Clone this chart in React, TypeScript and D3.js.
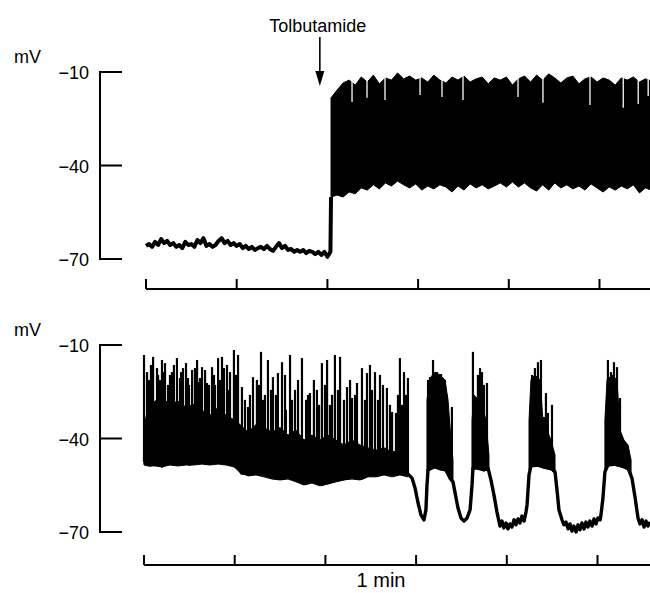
import React from "react";
import * as d3 from "d3";

const W = 650;
const H = 593;

// top record, resting potential before the drug (mV, one sample every 2 s)
const restStep = 2;
const restTop = [
  -65.8, -65.2, -66.1, -64.5, -65.5, -63.6, -64.9, -64.2, -65.5, -64.9,
  -66.1, -65.5, -66.5, -64.5, -65.5, -65.2, -66.1, -63.9, -64.9, -63.3,
  -65.8, -65.2, -66.1, -65.5, -64.2, -63.3, -64.9, -64.2, -65.5, -64.9,
  -65.8, -65.2, -66.5, -65.8, -66.8, -66.1, -67.1, -66.5, -66.1, -66.8,
  -65.8, -66.8, -67.4, -66.1, -64.9, -66.5, -65.8, -67.1, -66.8, -67.7,
  -67.1, -67.7, -67.1, -68.1, -67.4, -67.7, -68.4, -67.7, -68.7, -67.7,
  -69.3, -67.7,
];

// top record after tolbutamide: envelope of continuous firing (4 s samples)
const drugTime = 115;
const bandStart = 122.4;
const bandStep = 4;
const bandUpper = [
  -18.3, -15.8, -13.5, -12.6, -14.2, -11.6, -13.2, -11.0, -13.8, -11.9,
  -12.6, -10.3, -12.2, -11.3, -12.6, -11.9, -13.2, -11.0, -12.6, -13.5,
  -11.6, -12.6, -11.3, -13.2, -12.2, -11.6, -13.8, -11.9, -12.6, -11.6,
  -14.2, -12.2, -11.3, -13.2, -11.0, -12.6, -10.6, -11.9, -13.5, -11.9,
  -11.3, -13.8, -12.2, -11.6, -13.2, -11.9, -12.6, -14.2, -11.9, -12.6,
  -11.6, -13.2, -12.2, -12.9,
];
const bandLower = [
  -50.1, -49.5, -50.1, -48.5, -49.1, -47.2, -47.9, -46.2, -47.5, -45.6,
  -46.6, -45.0, -46.2, -47.2, -45.9, -47.9, -46.6, -47.5, -46.2, -46.9,
  -48.5, -46.6, -47.9, -45.9, -47.2, -46.2, -47.5, -46.6, -45.6, -46.9,
  -45.3, -46.9, -45.6, -47.2, -48.2, -46.2, -47.9, -45.6, -47.2, -46.2,
  -47.5, -46.6, -47.9, -45.9, -47.2, -48.5, -46.9, -47.9, -46.6, -47.5,
  -46.2, -48.8, -47.2, -47.9,
];
// gaps between spikes reaching down from the top of the band [s, mV]
const bandGaps: [number, number][] = [
  [136.3, -19.6], [146.2, -18.3], [158.1, -19.0], [181.3, -17.4], [195.8, -18.0],
  [209.7, -19.0], [246.1, -18.0], [262.6, -19.9], [293.7, -20.6], [315.7, -21.5],
  [325.6, -20.3], [332.2, -17.7],
];

// bottom record: membrane potential under the spikes [s, mV]
const floorBottom: [number, number][] = [
  [0, -47.5], [4, -48.5], [7.9, -47.9], [11.9, -48.8], [15.9, -47.5], [20.5, -48.2],
  [25.1, -47.5], [30.4, -48.2], [35.7, -47.2], [41, -47.9], [46.3, -47.5], [51.6, -47.2],
  [56.9, -47.9], [60.9, -48.8], [64.8, -51.1], [70.1, -51.4], [75.4, -50.7], [80.7, -51.7],
  [86, -52.3], [91.3, -52.7], [96.6, -52.0], [101.9, -53.3], [107.2, -54.3], [112.4, -53.3],
  [117.7, -54.6], [123, -53.9], [128.3, -53.3], [133.6, -52.7], [138.9, -52.0], [144.2, -52.7],
  [149.5, -51.4], [154.8, -51.7], [160.1, -50.7], [165.4, -51.4], [170.7, -50.7], [174.6, -51.4],
  [177.3, -52.7], [179.3, -55.9], [181.3, -60.7], [183.2, -64.5], [185.2, -66.1], [186.5, -62.9],
  [187.2, -54.9], [187.9, -50.1], [191.8, -48.8], [195.8, -49.5], [199.8, -50.1], [202.4, -52.7],
  [204.4, -53.9], [205.7, -57.2], [207.7, -62.3], [209.7, -65.5], [211.7, -66.5], [213.7, -65.5],
  [215.7, -62.9], [217, -54.9], [217.6, -49.5], [220.9, -49.5], [224.9, -50.1], [227.6, -49.5],
  [229.5, -53.3], [231.5, -58.1], [233.5, -63.6], [235.5, -68.1], [236.8, -66.5], [238.1, -68.7],
  [239.5, -67.1], [240.8, -69.0], [242.1, -67.4], [243.4, -68.4], [244.8, -66.1], [246.1, -67.7],
  [247.4, -65.8], [248.7, -67.1], [250, -64.9], [251.4, -66.5], [252.7, -63.6], [253.4, -61.3],
  [254.7, -51.7], [256, -48.8], [260.6, -48.5], [265.3, -49.1], [269.9, -49.5], [271.9, -50.7],
  [273.2, -56.5], [274.5, -62.9], [276.5, -66.1], [277.8, -67.7], [279.2, -66.8], [280.5, -69.0],
  [281.8, -67.4], [283.1, -69.7], [284.4, -68.1], [285.8, -70.0], [287.1, -67.7], [288.4, -69.3],
  [289.7, -67.1], [291.1, -69.0], [292.4, -66.8], [293.7, -68.4], [295, -66.5], [296.4, -68.1],
  [297.7, -65.8], [299, -67.4], [300.3, -65.5], [301.7, -66.1], [302.3, -64.5], [303.6, -59.1],
  [304.9, -50.7], [306.9, -48.5], [311.5, -48.2], [316.2, -48.8], [320.2, -49.5], [322.8, -52.7],
  [324.8, -58.8], [326.8, -65.5], [328.1, -67.4], [329.5, -66.1], [330.8, -68.4], [332.1, -66.5],
  [333.4, -68.1], [334.7, -66.8],
];

// bottom record: dense firing regions [s, top mV, bottom mV]
const burstBands: [number, number, number][][] = [
  [
    [0, -37.0, -48.5], [2.6, -29.5, -48.8], [7.3, -28.0, -48.8], [11.9, -27.0, -49.1],
    [17.2, -29.0, -48.5], [22.5, -28.0, -48.8], [27.8, -30.0, -48.5], [33.1, -29.0, -48.5],
    [38.4, -31.0, -48.2], [43.7, -32.5, -48.5], [49.0, -30.0, -48.2], [54.2, -32.5, -48.5],
    [59.5, -34.0, -49.1], [63.5, -35.5, -50.7], [68.8, -38.0, -52.0], [74.1, -35.5, -51.7],
    [79.4, -36.5, -52.3], [84.7, -38.0, -53.0], [90.0, -36.5, -53.3], [95.3, -38.9, -53.0],
    [100.5, -37.3, -53.9], [105.8, -40.5, -54.9], [111.1, -38.9, -54.3], [116.4, -40.5, -55.2],
    [121.7, -38.9, -54.6], [127.0, -40.5, -53.9], [132.3, -42.1, -53.3], [137.6, -40.5, -53.0],
    [142.9, -42.1, -53.3], [148.2, -43.0, -52.3], [153.5, -43.7, -52.3], [158.8, -43.0, -51.7],
    [164.1, -44.3, -52.3], [169.3, -43.7, -51.7], [174.6, -45.3, -52.3],
  ],
  [
    [187.2, -27.6, -50.7], [189.2, -20.6, -50.1], [192.5, -18.7, -49.5], [195.8, -19.6, -50.1],
    [199.1, -21.2, -50.4], [201.1, -27.6, -51.7], [203.1, -40.5, -53.3], [204.4, -46.9, -54.6],
  ],
  [
    [217.0, -34.1, -50.1], [218.3, -26.0, -49.5], [220.9, -27.6, -49.8], [223.6, -29.2, -50.1],
    [226.2, -34.1, -50.1], [228.2, -45.3, -50.7],
  ],
  [
    [254.7, -34.1, -50.1], [256.0, -21.2, -49.1], [258.6, -19.6, -48.8], [262.0, -21.2, -49.1],
    [263.9, -34.1, -49.5], [266.6, -37.3, -49.8], [269.2, -40.5, -50.1], [271.9, -45.3, -51.4],
  ],
  [
    [304.9, -34.1, -50.1], [306.3, -21.2, -48.8], [309.6, -19.6, -48.5], [312.9, -21.2, -48.8],
    [314.9, -37.3, -49.1], [317.5, -40.5, -49.5], [320.2, -42.1, -50.1], [322.2, -46.9, -52.0],
  ],
];

// bottom record: spike peaks [s, mV]
const spikesBottom: [number, number][] = [
  [0, -13.2], [2.0, -18.7], [3.3, -21.2], [4.6, -16.4], [6.0, -13.8], [8.6, -17.4],
  [9.3, -19.6], [10.6, -21.2], [11.9, -14.8], [13.2, -18.7], [13.9, -15.8], [15.9, -22.8],
  [17.2, -19.6], [18.5, -18.7], [19.8, -16.4], [21.8, -14.2], [23.8, -20.6], [24.5, -18.7],
  [25.8, -17.4], [27.8, -15.8], [29.1, -20.6], [29.8, -22.8], [31.8, -18.0], [33.7, -17.4],
  [35.1, -14.8], [36.4, -21.9], [37.0, -20.6], [38.4, -17.1], [40.4, -18.0], [41.7, -22.2],
  [43.0, -22.8], [45.0, -17.1], [46.3, -19.6], [47.0, -22.8], [49.0, -14.2], [50.3, -21.2],
  [51.6, -13.8], [52.9, -17.4], [54.9, -16.4], [56.2, -24.4], [56.9, -18.7], [59.5, -11.6],
  [60.9, -19.6], [62.2, -13.2], [64.8, -23.5], [66.8, -27.6], [68.8, -29.9], [70.1, -26.0],
  [72.1, -20.3], [74.7, -21.2], [76.1, -22.8], [77.4, -12.2], [78.7, -27.6], [80.0, -26.0],
  [82.0, -14.8], [84.0, -24.4], [85.3, -20.3], [87.3, -26.0], [88.6, -19.0], [91.3, -15.5],
  [93.3, -19.6], [93.9, -30.8], [96.6, -13.2], [97.9, -27.6], [99.9, -24.4], [101.9, -21.2],
  [104.5, -14.2], [107.2, -27.6], [108.5, -26.0], [109.8, -25.4], [112.4, -21.2], [114.4, -24.4],
  [115.8, -29.2], [117.7, -15.8], [119.7, -22.8], [121.1, -14.8], [123.0, -29.2], [124.4, -26.0],
  [126.3, -13.2], [128.3, -24.4], [129.7, -13.8], [132.3, -27.6], [134.3, -23.5], [136.3, -21.2],
  [137.6, -27.0], [139.6, -26.0], [140.9, -22.2], [144.2, -17.4], [146.2, -27.6], [147.5, -19.0],
  [149.5, -16.4], [150.8, -24.4], [152.8, -18.7], [154.8, -27.6], [156.1, -19.6], [158.1, -22.8],
  [160.7, -23.8], [162.7, -29.2], [164.1, -31.5], [166.7, -31.8], [168.0, -26.0], [169.3, -14.2],
  [170.7, -29.2], [172.0, -18.7], [173.3, -26.0], [174.6, -20.6],
  [187.9, -21.2], [189.2, -20.3], [191.2, -14.8], [193.8, -18.7], [196.5, -19.3], [199.1, -21.2],
  [200.4, -26.0], [203.7, -29.9],
  [217.6, -12.2], [219.6, -26.7], [220.9, -19.6], [222.3, -17.4], [223.6, -18.7], [224.9, -22.8],
  [226.9, -22.2],
  [256.7, -19.6], [258.6, -17.4], [260.6, -15.5], [262.6, -14.8], [264.6, -33.1], [265.9, -25.4],
  [267.2, -31.8], [269.9, -29.2],
  [306.9, -14.8], [308.9, -18.7], [310.9, -15.5], [312.9, -17.1], [314.9, -27.0],
];

const mvTicks = [-10, -40, -70];
const minuteTicks = [0, 60, 120, 180, 240, 300];

const font = "'Liberation Sans', Arial, sans-serif";

const floorAt = (t: number) => {
  const i = d3.bisector((d: [number, number]) => d[0]).left(floorBottom, t);
  if (i <= 0) return floorBottom[0][1];
  if (i >= floorBottom.length) return floorBottom[floorBottom.length - 1][1];
  const a = floorBottom[i - 1];
  const b = floorBottom[i];
  return a[1] + ((t - a[0]) / (b[0] - a[0])) * (b[1] - a[1]);
};

const upperAt = (t: number) => {
  const f = (t - bandStart) / bandStep;
  const i = Math.max(0, Math.min(bandUpper.length - 2, Math.floor(f)));
  const k = f - i;
  return bandUpper[i] + k * (bandUpper[i + 1] - bandUpper[i]);
};

const Panel = ({ x0, yTop, yBot, axisY, children }: any) => {
  const y = d3.scaleLinear().domain([-10, -70]).range([yTop, yBot]);
  const x = d3.scaleLinear().domain([0, 60]).range([x0, x0 + 90.7]);
  return (
    <g>
      <text x={14} y={yTop - 9} fontSize={18} fontFamily={font}>mV</text>
      <line x1={100} x2={100} y1={y(-10) - 1} y2={y(-70) + 1} stroke="#000" strokeWidth={2} />
      {mvTicks.map((v) => (
        <g key={v}>
          <line x1={100} x2={122} y1={y(v)} y2={y(v)} stroke="#000" strokeWidth={2} />
          <text x={89} y={y(v) + 1} textAnchor="end" dominantBaseline="central" fontSize={18} fontFamily={font}>
            {"\u2212" + Math.abs(v)}
          </text>
        </g>
      ))}
      <line x1={x0} x2={W} y1={axisY} y2={axisY} stroke="#000" strokeWidth={2} />
      {minuteTicks.map((t) => (
        <line key={t} x1={x(t)} x2={x(t)} y1={axisY - 10} y2={axisY} stroke="#000" strokeWidth={2} />
      ))}
      {children(x, y)}
    </g>
  );
};

export default function App() {
  return (
    <svg width={W} height={H} style={{ position: "absolute", left: 0, top: 0, background: "#fff" }}>
      <Panel x0={146} yTop={72} yBot={259} axisY={289}>
        {(x: any, y: any) => {
          const rest: [number, number][] = restTop.map((v, i) => [i * restStep, v]);
          rest.push([bandStart, bandLower[0]]);
          const line = d3.line<[number, number]>().x((d) => x(d[0])).y((d) => y(d[1]));
          const area = d3
            .area<number>()
            .x((_, i) => x(bandStart + i * bandStep))
            .y0((_, i) => y(bandLower[i]))
            .y1((d) => y(d));
          const ax = x(drugTime);
          return (
            <g>
              <path d={line(rest) || ""} fill="none" stroke="#000" strokeWidth={4} strokeLinejoin="round" />
              <path d={area(bandUpper) || ""} fill="#000" stroke="#000" strokeWidth={1} />
              {bandGaps.map(([t, v], i) => (
                <line key={i} x1={x(t)} x2={x(t)} y1={y(upperAt(t)) - 2} y2={y(v)} stroke="#fff" strokeWidth={1.3} />
              ))}
              <text x={ax - 2} y={32} textAnchor="middle" fontSize={18} fontFamily={font}>Tolbutamide</text>
              <line x1={ax} x2={ax} y1={37} y2={74} stroke="#000" strokeWidth={1.6} />
              <path d={`M${ax - 4.5},71L${ax + 4.5},71L${ax},86Z`} fill="#000" />
            </g>
          );
        }}
      </Panel>
      <Panel x0={144} yTop={345} yBot={532} axisY={565}>
        {(x: any, y: any) => {
          const line = d3.line<[number, number]>().x((d) => x(d[0])).y((d) => y(d[1]));
          const area = d3
            .area<[number, number, number]>()
            .x((d) => x(d[0]))
            .y0((d) => y(d[2]))
            .y1((d) => y(d[1]));
          return (
            <g>
              <path d={line(floorBottom) || ""} fill="none" stroke="#000" strokeWidth={3.4} strokeLinejoin="round" />
              {burstBands.map((b, i) => (
                <path key={i} d={area(b) || ""} fill="#000" stroke="#000" strokeWidth={1} />
              ))}
              {spikesBottom.map(([t, v], i) => (
                <line key={i} x1={x(t)} x2={x(t)} y1={y(v)} y2={y(floorAt(t))} stroke="#000" strokeWidth={2.2} />
              ))}
              <text x={381} y={587} textAnchor="middle" fontSize={20} fontFamily={font}>1 min</text>
            </g>
          );
        }}
      </Panel>
    </svg>
  );
}
